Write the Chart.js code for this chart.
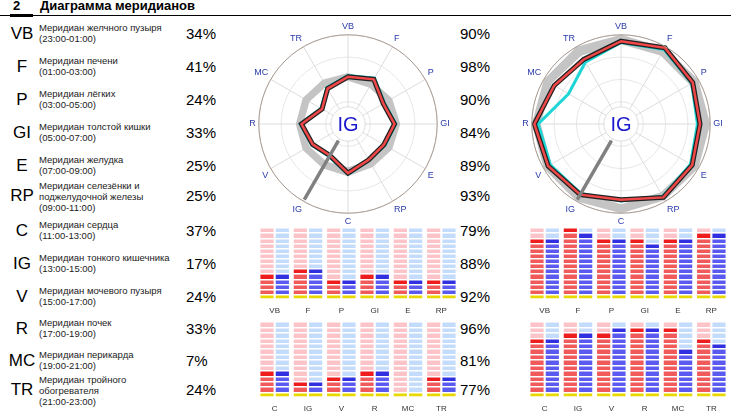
<!DOCTYPE html>
<html>
<head>
<meta charset="UTF-8">
<script src="https://cdn.jsdelivr.net/npm/chart.js@4"></script>
<style>
	body{margin:0;width:731px;height:417px;position:relative;font-family:"Liberation Sans",Arial,sans-serif;background:#fff;overflow:hidden}
	#head{position:absolute;left:0;top:0;width:731px;height:15px;border-bottom:1px solid #000}
	#head .n{position:absolute;left:10px;top:-2px;font-size:13px;font-weight:bold;width:20px;border-bottom:3px solid #000;height:16px;padding-left:3px}
	#head .t{position:absolute;left:40px;top:-2px;font-size:13px;font-weight:bold}
	.row{position:absolute;left:0;height:30px;width:731px}
	.code{position:absolute;left:8px;width:28px;text-align:center;font-size:17px;top:2px}
	.name{position:absolute;left:39px;font-size:9.5px;line-height:11px;color:#222}
	.p1,.p2{position:absolute;font-size:15px;top:3px}
	.p1{left:186px}.p2{left:460px}
	canvas{position:absolute}
</style>
</head>
<body>
<div id="head"><span class="n">2</span><span class="t">Диаграмма меридианов</span></div>
<div id="rows"></div>
<div id="r1" style="position:absolute;left:245px;top:22px;width:210px;height:206px"><canvas id="radar1"></canvas></div>
<div id="r2" style="position:absolute;left:518px;top:22px;width:210px;height:206px"><canvas id="radar2"></canvas></div>
<div style="position:absolute;left:258px;top:228px;width:200px;height:88px"><canvas id="b1"></canvas></div>
<div style="position:absolute;left:258px;top:322px;width:200px;height:92px"><canvas id="b2"></canvas></div>
<div style="position:absolute;left:528px;top:228px;width:200px;height:88px"><canvas id="b3"></canvas></div>
<div style="position:absolute;left:528px;top:322px;width:200px;height:92px"><canvas id="b4"></canvas></div>
<script>
const codes = ["VB","F","P","GI","E","RP","C","IG","V","R","MC","TR"];
const names = [
	["Меридиан желчного пузыря","(23:00-01:00)"],
	["Меридиан печени","(01:00-03:00)"],
	["Меридиан лёгких","(03:00-05:00)"],
	["Меридиан толстой кишки","(05:00-07:00)"],
	["Меридиан желудка","(07:00-09:00)"],
	["Меридиан селезёнки и","поджелудочной железы","(09:00-11:00)"],
	["Меридиан сердца","(11:00-13:00)"],
	["Меридиан тонкого кишечника","(13:00-15:00)"],
	["Меридиан мочевого пузыря","(15:00-17:00)"],
	["Меридиан почек","(17:00-19:00)"],
	["Меридиан перикарда","(19:00-21:00)"],
	["Меридиан тройного","обогревателя","(21:00-23:00)"]
];
const left = [34,41,24,33,25,25,37,17,24,33,7,24];
const right = [90,98,90,84,89,93,79,88,92,96,81,77];
const leftCyan = [36,43,26,35,27,26,39,19,26,35,9,26];
const rightCyan = [88,95,88,80,86,91,81,86,88,90,55,72];
const leftBandHi = [40,38,40,42,40,38,42,40,42,42,42,40];
const leftBandLo = [28,26,28,30,28,26,28,28,30,30,30,28];
const rightBandHi = [100,98,100,100,100,98,100,100,100,100,100,100];
const rightBandLo = [85,84,84,86,86,84,86,84,86,86,86,84];
// lit segments of 13, per meridian
const redL = [4,5,3,4,3,3,4,2,3,4,0,3];
const blueL = [4,5,3,4,3,3,4,2,3,4,0,3];
const redR = [11,13,11,11,11,12,10,11,11,12,12,10];
const blueR = [11,12,11,10,11,12,10,11,12,12,8,9];
const SEG = 13;

const rowTop = [22,55,88,121,154,184,219,252,285,317,349,378];
const rows = document.getElementById("rows");
codes.forEach((c,i)=>{
	const d = document.createElement("div");
	d.className = "row"; d.style.top = rowTop[i]+"px";
	const n = names[i];
	const nt = n.length>2 ? -4 : 0;
	d.innerHTML = "<div class='code'>"+c+"</div><div class='name' style='top:"+nt+"px'>"+n.join("<br>")+"</div>"
		+"<div class='p1'>"+left[i]+"%</div><div class='p2'>"+right[i]+"%</div>";
	rows.appendChild(d);
});

const hub = {
	id:"hub",
	afterDatasetsDraw(chart){
		const s = chart.scales.r, ctx = chart.ctx;
		const hole = s.getDistanceFromCenterForValue(-10);
		const a = s.getPointPosition(7, s.drawingArea*0.98);
		const b = s.getPointPosition(7, hole);
		ctx.save();
		ctx.strokeStyle="#808080";ctx.lineWidth=3.5;
		ctx.beginPath();ctx.moveTo(b.x,b.y);ctx.lineTo(a.x,a.y);ctx.stroke();
		ctx.beginPath();ctx.arc(s.xCenter,s.yCenter,hole-2,0,Math.PI*2);
		ctx.fillStyle="#fff";ctx.fill();ctx.strokeStyle="#ddd";ctx.lineWidth=1;ctx.stroke();
		ctx.fillStyle="#1a1acc";ctx.font="20px 'Liberation Sans'";ctx.textAlign="center";ctx.textBaseline="middle";
		ctx.fillText("IG",s.xCenter,s.yCenter+1);
		ctx.beginPath();ctx.arc(s.xCenter,s.yCenter,s.drawingArea,0,Math.PI*2);
		ctx.strokeStyle="#a89a90";ctx.lineWidth=1;ctx.stroke();
		ctx.restore();
	}
};

function radar(id, red, cyan, hi, lo){
	new Chart(document.getElementById(id),{
		type:"radar",
		data:{labels:codes,datasets:[
			{data:red,borderColor:"#f04848",borderWidth:2.5,fill:false,pointRadius:0},
			{data:red,borderColor:"#222",borderWidth:5,fill:false,pointRadius:0},
			{data:cyan,borderColor:"#1fd6d6",borderWidth:3,fill:false,pointRadius:0},
			{data:lo,borderWidth:0,borderColor:"rgba(0,0,0,0)",backgroundColor:"rgba(0,0,0,0)",fill:false,pointRadius:0},
			{data:hi,borderWidth:0,borderColor:"rgba(0,0,0,0)",backgroundColor:"#c4c4c4",fill:"-1",pointRadius:0}
		]},
		options:{animation:false,responsive:true,maintainAspectRatio:false,
			layout:{padding:0},
			plugins:{legend:{display:false},tooltip:{enabled:false}},
			scales:{r:{min:-40,max:100,
				ticks:{display:false,stepSize:35},
				grid:{color:"#e6e6e6",circular:true},
				angleLines:{color:"#dcdcdc"},
				pointLabels:{color:"#2a3aa8",font:{size:9},padding:3}}}},
		plugins:[hub]
	});
}
radar("radar1",left,leftCyan,leftBandHi,leftBandLo);
radar("radar2",right,rightCyan,rightBandHi,rightBandLo);

function bars(id, idx, red, blue){
	const labs = idx.map(i=>codes[i]);
	const r = idx.map(i=>red[i]), b = idx.map(i=>blue[i]);
	const base = idx.map(()=>0.7);
	const mk = (vals,stack,dim,top,pale)=>[
		{data:base,backgroundColor:"#e8d800",stack},
		{data:vals.map(v=>Math.max(v-1,0)),backgroundColor:dim,stack},
		{data:vals.map(v=>v>0?1:0),backgroundColor:top,stack},
		{data:vals.map(v=>SEG-v),backgroundColor:pale,stack}
	];
	new Chart(document.getElementById(id),{
		type:"bar",
		data:{labels:labs,datasets:[
			...mk(r,"r","#f05a5a","#ee1c1c","#fcc4c8"),
			...mk(b,"b","#5a5af0","#3030e0","#c4dcfc")
		]},
		options:{animation:false,responsive:true,maintainAspectRatio:false,
			datasets:{bar:{categoryPercentage:0.92,barPercentage:0.86}},
			plugins:{legend:{display:false},tooltip:{enabled:false}},
			scales:{
				x:{stacked:true,grid:{display:false},border:{display:false},ticks:{color:"#333",font:{size:8},padding:0}},
				y:{stacked:true,min:0,max:SEG+0.7,display:true,
					afterBuildTicks(s){s.ticks=[];for(let k=0;k<=SEG;k++)s.ticks.push({value:k+0.7});},
					ticks:{display:false},border:{display:false},
					grid:{color:"#fff",lineWidth:1.5,z:1,drawTicks:false}}
			}}
	});
}
bars("b1",[0,1,2,3,4,5],redL,blueL);
bars("b2",[6,7,8,9,10,11],redL,blueL);
bars("b3",[0,1,2,3,4,5],redR,blueR);
bars("b4",[6,7,8,9,10,11],redR,blueR);
</script>
</body>
</html>
